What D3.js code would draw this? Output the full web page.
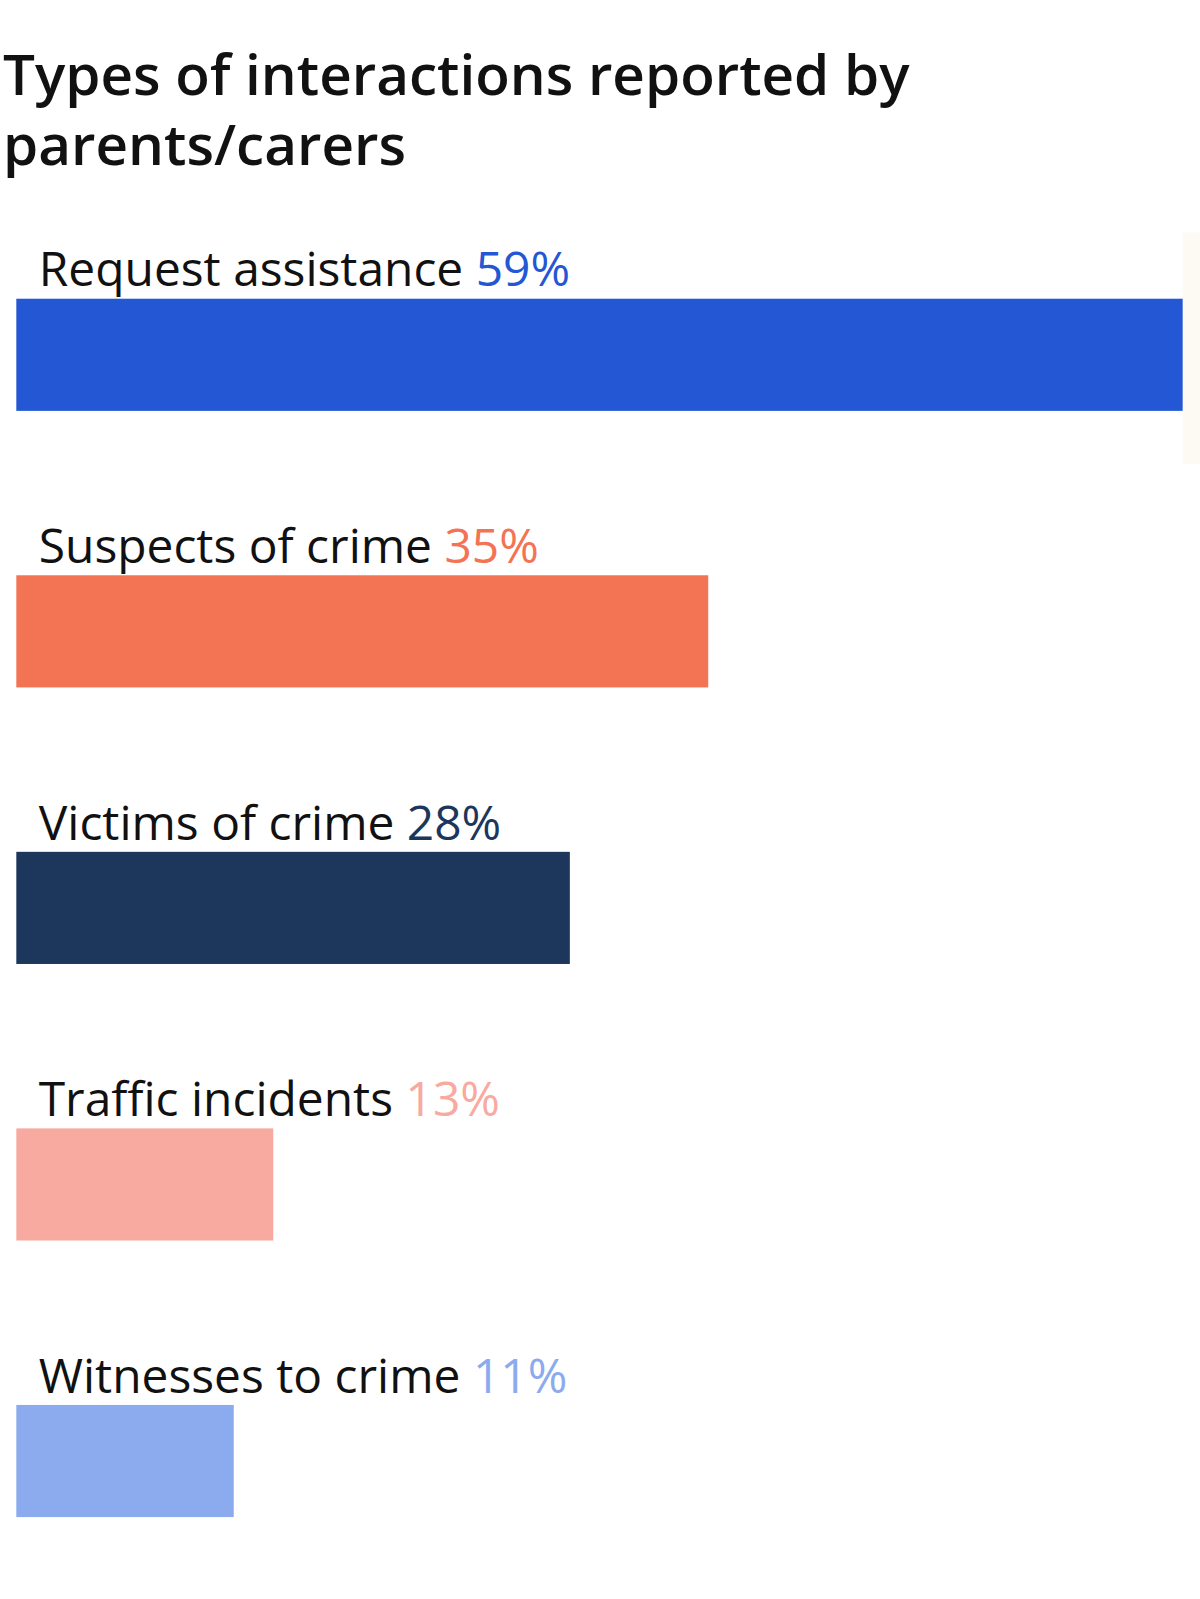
<!DOCTYPE html>
<html>
<head>
<meta charset="utf-8">
<script src="https://cdn.jsdelivr.net/npm/d3@7"></script>
<style>
  html, body { margin: 0; background: #fff; overflow: hidden; }
  svg { display: block; }
  svg text { font-family: "Open Sans", Lato, sans-serif; }
</style>
</head>
<body>
<svg id="chart"></svg>
<script>
var svgWidth = 1200;
var svgHeight = 1599;
// drawing units, a touch smaller than the page
var vbWidth = 1177;
var vbHeight = 1568;

var categories = ["Request assistance", "Suspects of crime", "Victims of crime", "Traffic incidents", "Witnesses to crime"];
var values = [59, 35, 28, 13, 11];
var colors = ["#2457d4", "#f37355", "#1c365c", "#f9aaa0", "#8cabef"];
var titleLines = ["Types of interactions reported by", "parents/carers"];

var rows = categories.map((c, i) => ({ name: c, value: values[i], color: colors[i] }));

var svg = d3.select("#chart")
  .attr("width", svgWidth)
  .attr("height", svgHeight)
  .attr("viewBox", [0, 0, vbWidth, vbHeight])
  .attr("preserveAspectRatio", "xMinYMin meet");

// title
svg.append("text")
  .attr("y", 93)
  .attr("font-size", 55.5)
  .attr("font-weight", 600)
  .attr("fill", "#111")
  .selectAll("tspan")
  .data(titleLines)
  .join("tspan")
    .attr("x", 3)
    .attr("dy", (d, i) => i ? 69 : 0)
    .text(d => d);

var x = d3.scaleLinear()
  .domain([0, d3.max(values)])
  .range([16, 1160]);

// bars 110 tall, one every ~271
var y = d3.scaleBand()
  .domain(categories)
  .range([293, 1488])
  .paddingInner(0.5945)
  .paddingOuter(0);

// pale strip behind the end of the top bar
svg.append("rect")
  .attr("x", 1160)
  .attr("y", 228)
  .attr("width", 17)
  .attr("height", 227)
  .attr("fill", "#fdf9f3");

var row = svg.append("g")
  .selectAll("g")
  .data(rows)
  .join("g");

row.append("rect")
  .attr("x", x(0))
  .attr("y", d => y(d.name))
  .attr("width", d => x(d.value) - x(0))
  .attr("height", y.bandwidth())
  .attr("fill", d => d.color);

var label = row.append("text")
  .attr("x", 38)
  .attr("y", d => y(d.name) - 12)
  .attr("font-size", 47)
  .attr("fill", "#111");

label.append("tspan").text(d => d.name + " ");
label.append("tspan")
  .attr("fill", d => d.color)
  .text(d => d.value + "%");
</script>
</body>
</html>
